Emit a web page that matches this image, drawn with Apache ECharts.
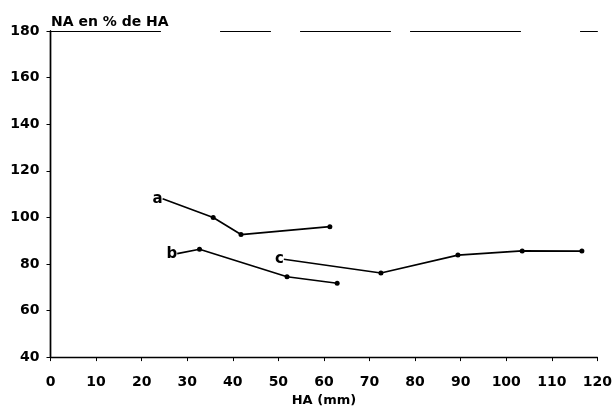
<!DOCTYPE html>
<html>
<head>
<meta charset="utf-8">
<script src="https://cdn.jsdelivr.net/npm/echarts@6/dist/echarts.min.js"></script>
<style>
html,body{margin:0;padding:0;background:#fff}
#chart{width:615px;height:412px}
</style>
</head>
<body>
<div id="chart"></div>
<script>
// Curve labels and measured points [HA (mm), NA in % of HA]
const curveNames = ['a', 'b', 'c'];
const curveA = [[24.6, 108.0], [35.7, 99.9], [41.8, 92.6], [61.3, 96.0]];
const curveB = [[27.8, 84.4], [32.7, 86.3], [51.9, 74.5], [62.9, 71.7]];
const curveC = [[51.2, 82.0], [72.5, 76.1], [89.4, 83.8], [103.5, 85.6], [116.6, 85.5]];
const xRange = [0, 120, 10];
const yRange = [40, 180, 20];
const titleText = 'NA en % de HA';
const xName = 'HA (mm)';

const FONT = 'DejaVu Sans';
const INK = '#000';

function makeSeries(name, pts) {
  const data = pts.map((p, i) => {
    if (i === 0) {
      return {
        value: p,
        symbolSize: 0,
        label: {
          show: true, formatter: name, position: 'left', distance: 0,
          color: INK, fontFamily: FONT, fontWeight: 'bold', fontSize: 15
        }
      };
    }
    return { value: p };
  });
  return {
    type: 'line', name: name, data: data,
    symbol: 'circle', symbolSize: 5, showSymbol: true,
    lineStyle: { color: INK, width: 1.7 },
    itemStyle: { color: INK },
    animation: false
  };
}

const chart = echarts.init(document.getElementById('chart'), null, { renderer: 'canvas' });
chart.setOption({
  backgroundColor: '#fff',
  animation: false,
  title: {
    text: titleText, left: 46, top: 10,
    textStyle: { fontFamily: FONT, fontWeight: 'bold', fontSize: 14, color: INK }
  },
  grid: { left: 50.5, right: 15, top: 31, bottom: 48 },
  xAxis: [{
    type: 'value', min: xRange[0], max: xRange[1], interval: xRange[2],
    name: xName, nameLocation: 'middle', nameGap: 33,
    nameTextStyle: { fontFamily: FONT, fontWeight: 'bold', fontSize: 13, color: INK },
    axisLine: { show: true, lineStyle: { color: INK, width: 1.4 } },
    axisTick: { show: true, length: 4, lineStyle: { color: INK, width: 1 } },
    axisLabel: { margin: 18, fontFamily: FONT, fontWeight: 'bold', fontSize: 14, color: INK },
    splitLine: { show: false }
  }, {
    type: 'value', position: 'top', min: xRange[0], max: xRange[1],
    axisLine: { show: true, lineStyle: { color: INK, width: 1.2, type: [110, 60, 50, 30, 90, 20] } },
    axisTick: { show: false }, axisLabel: { show: false }, splitLine: { show: false }
  }],
  yAxis: [{
    type: 'value', min: yRange[0], max: yRange[1], interval: yRange[2],
    axisLine: { show: true, lineStyle: { color: INK, width: 1.4 } },
    axisTick: { show: true, length: 4, lineStyle: { color: INK, width: 1 } },
    axisLabel: { margin: 11, fontFamily: FONT, fontWeight: 'bold', fontSize: 14, color: INK },
    splitLine: { show: false }
  }, {
    type: 'value', position: 'right', min: yRange[0], max: yRange[1],
    axisLine: { show: true, lineStyle: { color: INK, width: 1.4 } },
    axisTick: { show: false }, axisLabel: { show: false }, splitLine: { show: false }
  }],
  series: [
    makeSeries(curveNames[0], curveA),
    makeSeries(curveNames[1], curveB),
    makeSeries(curveNames[2], curveC)
  ]
});
</script>
</body>
</html>
